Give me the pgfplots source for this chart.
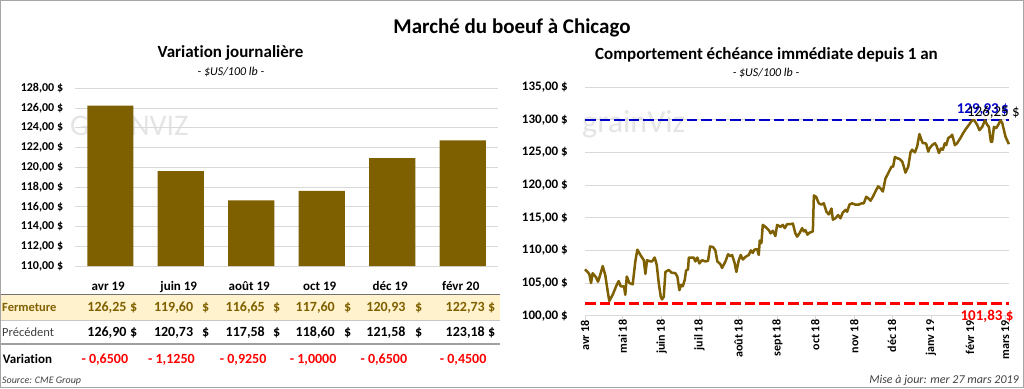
\documentclass[border=0pt]{standalone}
\usepackage{pgfplots}
\pgfplotsset{compat=1.18}
\usepackage{fontspec}
\setmainfont{Carlito}[Ligatures=NoCommon]
\definecolor{olive}{HTML}{7F6000}
\definecolor{beige}{HTML}{FFF2CC}
\definecolor{myblue}{HTML}{0000C8}
\definecolor{gridc}{HTML}{D9D9D9}
\definecolor{txtgray}{HTML}{404040}
\newcommand{\fs}[1]{\fontsize{#1}{#1}\selectfont}
\newcommand{\trow}[5]{%
  \node[anchor=base east, inner sep=0pt, text=olive] at (#1,311.7) {\fs{14}\bfseries #3};
  \node[anchor=base west, inner sep=0pt, text=olive] at (#2,311.7) {\fs{14}\bfseries \$};
  \node[anchor=base east, inner sep=0pt] at (#1,336.7) {\fs{14}\bfseries #4};
  \node[anchor=base west, inner sep=0pt] at (#2,336.7) {\fs{14}\bfseries \$};
  \node[anchor=base east, inner sep=0pt, text=red] at (#1+1.6,363.3) {\fs{14}\bfseries - #5};
}
\begin{document}
\begin{tikzpicture}
\path[use as bounding box] (0pt,0pt) rectangle (1024pt,-388pt);
\begin{scope}[x=1pt,y=-1pt]
\fill[white] (0,0) rectangle (1024,388);
% table background and rules
\fill[beige] (0,295) rectangle (500,319.5);
\draw[gray!90!black, line width=1.3pt] (0,294.3) -- (500,294.3);
\draw[gray!45, line width=0.8pt] (0,320) -- (500,320);
\draw[gray!75, line width=2pt] (0,344) -- (500,344);
% watermarks
\node[anchor=base west, text=gray!20, inner sep=0pt] at (70,135) {\fs{30}GRAINVIZ};
\node[anchor=base west, text=gray!20, inner sep=0pt] at (582,132) {\fs{32}grainViz};
% titles
\node[anchor=base, inner sep=0pt] at (512,33.5) {\fs{21}\bfseries Marché du boeuf à Chicago};
\node[anchor=base, inner sep=0pt] at (230.5,57.5) {\fs{17}\bfseries Variation journalière};
\node[anchor=base, inner sep=0pt] at (231,75) {\fs{12}\itshape - \$US/100 lb -};
\node[anchor=base, inner sep=0pt] at (766.5,59) {\fs{17}\bfseries Comportement échéance immédiate depuis 1 an};
\node[anchor=base, inner sep=0pt] at (766,76.7) {\fs{12}\itshape - \$US/100 lb -};
\end{scope}

% ---------------- left bar chart ----------------
\begin{axis}[at={(75pt,-266pt)}, anchor=south west, scale only axis,
  width=423pt, height=177.7pt,
  xmin=-0.5, xmax=5.5, ymin=110, ymax=128,
  ytick={110,112,...,128},
  ymajorgrids, grid style={gridc, line width=0.8pt},
  axis line style={draw=none}, major tick length=0pt,
  xtick={0,...,5},
  xticklabels={avr 19,juin 19,août 19,oct 19,déc 19,févr 20},
  xticklabel style={font=\fs{13}\bfseries, anchor=base, inner sep=0pt, yshift=-24.7pt, xshift=-2pt},
  yticklabel style={font=\fs{12}\bfseries, anchor=east, inner sep=0pt, xshift=-11.7pt},
  yticklabel={\pgfmathprintnumber[fixed,fixed zerofill,precision=2,use comma,assume math mode=true]{\tick}~\$},
  ybar, bar width=46pt, clip=false]
\addplot[fill=olive, draw=none] coordinates {(0,126.25) (1,119.60) (2,116.65) (3,117.60) (4,120.93) (5,122.73)};
\end{axis}

% ---------------- right line chart ----------------
\begin{axis}[at={(585pt,-315.7pt)}, anchor=south west, scale only axis,
  width=424pt, height=228.7pt,
  xmin=0, xmax=337, ymin=100, ymax=135,
  ytick={100,105,...,135},
  ymajorgrids, grid style={gridc, line width=0.8pt},
  axis x line*=bottom, axis y line*=left,
  x axis line style={gridc, line width=0.8pt},
  y axis line style={draw=none},
  ytick style={draw=none},
  xtick style={gridc, line width=0.8pt},
  tick align=outside, major tick length=4pt,
  xtick={0,30,61,91,122,153,183,214,244,275,306,334},
  xticklabels={avr 18,mai 18,juin 18,juil 18,août 18,sept 18,oct 18,nov 18,déc 18,janv 19,févr 19,mars 19},
  xticklabel style={font=\fs{12}\bfseries, rotate=90, anchor=east, inner sep=0pt},
  yticklabel style={font=\fs{13}\bfseries, anchor=east, inner sep=0pt, xshift=-13pt},
  yticklabel={\pgfmathprintnumber[fixed,fixed zerofill,precision=2,use comma,assume math mode=true]{\tick}~\$},
  clip=false]
\addplot[red, line width=2.5pt, dash pattern=on 10.5pt off 4pt] coordinates {(0,101.83) (337,101.83)};
\addplot[myblue, line width=2.5pt, dash pattern=on 10.5pt off 4pt] coordinates {(0,129.93) (337,129.93)};
\addplot[olive, line width=2.5pt, line join=round] coordinates {
(0,107.1)(3.4,106.4)(4.8,105.0)(6.1,106.5)(8.7,105.9)(10.3,105.2)(11.7,106.0)(14.1,107.6)(16.1,106.2)(18.3,103.4)(19.3,102.25)(22.0,103.2)(24.7,104.5)(26.8,105.3)(28.4,104.5)(31.0,104.5)(32.0,103.2)(33.2,106.0)(35.2,105.0)(37.9,104.8)(40.0,108.3)(41.6,110.1)(44.0,109.3)(46.7,108.5)(48.0,106.4)(49.3,108.5)(51.9,108.3)(53.3,108.3)(55.4,108.9)(57.0,107.8)(58.6,105.0)(60.2,102.9)(61.2,102.5)(62.6,102.9)(63.9,106.7)(66.6,107.0)(68.6,106.6)(71.8,106.5)(73.4,106.0)(75.0,103.9)(76.3,104.7)(77.7,104.5)(79.3,105.5)(80.3,106.9)(81.9,107.1)(82.5,108.9)(86.4,108.9)(87.7,108.3)(89.3,108.9)(90.9,108.0)(93.0,108.5)(95.7,108.3)(97.8,108.4)(99.4,110.6)(101.8,110.5)(103.6,110.0)(105.2,108.3)(107.6,107.9)(108.9,107.3)(111.6,108.3)(113.7,109.4)(115.5,109.1)(116.9,109.3)(119.0,108.0)(120.3,106.7)(122.2,108.5)(123.8,109.3)(125.4,108.6)(127.5,109.0)(130.2,109.3)(131.8,110.0)(133.4,109.6)(134.6,110.1)(136.8,110.2)(138.1,109.3)(138.9,111.5)(140.2,111.1)(141.3,113.9)(143.9,113.5)(146.1,113.1)(147.4,112.6)(149.3,113.0)(151.3,112.2)(152.7,113.9)(155.3,113.6)(157.2,113.9)(158.8,113.4)(160.6,114.0)(163.3,114.0)(165.2,114.1)(167.2,112.6)(168.6,112.1)(170.4,112.6)(172.6,113.4)(173.9,112.9)(175.2,113.1)(176.8,112.4)(178.4,112.7)(181.1,112.9)(181.9,118.4)(183.7,118.2)(185.8,117.2)(187.9,117.0)(189.8,117.2)(191.9,115.9)(193.8,115.5)(195.9,116.4)(197.0,114.7)(199.0,114.9)(201.2,115.4)(203.0,114.9)(204.9,115.8)(207.0,116.2)(208.3,115.9)(210.2,117.0)(212.3,117.2)(214.9,117.0)(217.6,117.0)(219.7,117.2)(221.6,117.2)(223.5,118.2)(225.0,118.0)(226.9,117.6)(228.8,118.2)(230.8,119.0)(233.0,119.8)(234.8,119.5)(236.7,119.0)(238.8,121.0)(241.5,122.0)(243.6,122.8)(244.9,122.8)(246.3,124.3)(248.1,124.1)(249.9,124.0)(252.1,123.6)(253.4,122.8)(254.7,121.9)(256.9,122.8)(258.7,125.0)(260.0,125.4)(262.2,125.0)(264.0,125.9)(265.8,127.8)(267.4,126.9)(268.5,126.4)(270.1,126.4)(271.2,126.3)(272.8,125.1)(273.8,125.6)(275.9,126.1)(278.1,126.4)(279.4,126.0)(281.3,124.9)(282.9,125.6)(284.4,125.4)(286.0,126.4)(287.1,126.1)(288.7,127.2)(290.5,127.4)(291.8,127.7)(294.0,126.1)(295.8,126.4)(298.4,127.2)(300.4,127.9)(302.4,128.5)(305.1,129.2)(307.7,129.9)(309.3,129.93)(311.7,129.2)(313.5,128.4)(315.7,128.9)(317.9,129.9)(319.7,129.2)(321.0,128.9)(322.6,126.6)(323.6,126.6)(325.0,128.9)(326.8,128.7)(328.4,129.2)(330.3,129.9)(331.6,129.5)(334.2,127.4)(336.9,126.25)};
\end{axis}

\begin{scope}[x=1pt,y=-1pt]
% right chart value labels
\node[anchor=base east, inner sep=0pt, text=myblue] at (1009,113.3) {\fs{15}\bfseries 129,93\,\$};
\node[anchor=base east, inner sep=0pt] at (1020,116) {\fs{15}126,25 \$};
\node[anchor=base east, inner sep=0pt, text=red] at (1013.7,320.7) {\fs{15}\bfseries 101,83 \$};
% table rows
\node[anchor=base west, inner sep=0pt, text=olive] at (2,311.7) {\fs{12.5}\bfseries Fermeture};
\node[anchor=base west, inner sep=0pt, text=txtgray] at (2,336.7) {\fs{12.5}Précédent};
\node[anchor=base west, inner sep=0pt] at (2.7,363.3) {\fs{13}\bfseries Variation};
\trow{126.7}{130}{126,25}{126,90}{0,6500}
\trow{193.3}{202}{119,60}{120,73}{1,1250}
\trow{265}{273}{116,65}{117,58}{0,9250}
\trow{335}{344}{117,60}{118,60}{1,0000}
\trow{405.7}{415}{120,93}{121,58}{0,6500}
\trow{485}{488}{122,73}{123,18}{0,4500}
\node[anchor=base west, inner sep=0pt, text=txtgray] at (2,383.3) {\fs{10}\itshape Source: CME Group};
\node[anchor=base east, inner sep=0pt, text=txtgray] at (1019,383.3) {\fs{12}\itshape Mise à jour: mer 27 mars 2019};
\draw[gray!70, line width=1pt] (0.5,0.5) rectangle (1023.5,387.5);
\end{scope}
\end{tikzpicture}
\end{document}
